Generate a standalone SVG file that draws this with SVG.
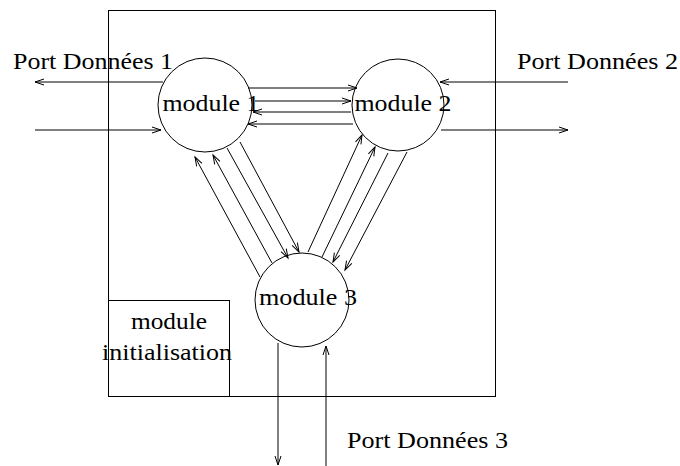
<svg xmlns="http://www.w3.org/2000/svg" width="680" height="466" viewBox="0 0 680 466">
<style>
.ln{stroke:#000;stroke-width:1;fill:none}
.ar{stroke:#000;stroke-width:1;fill:none;marker-end:url(#ah)}
.tx{font-family:"Liberation Serif","DejaVu Serif",serif;font-size:22.5px;fill:#000}
.c{text-anchor:middle}
</style>
<defs>
<marker id="ah" markerUnits="userSpaceOnUse" markerWidth="12" markerHeight="10" refX="10" refY="4" orient="auto" overflow="visible">
<path d="M1,1 L10,4 L1,7" fill="none" stroke="#000" stroke-width="1"/>
</marker>
</defs>
<rect x="0" y="0" width="680" height="466" fill="#fff"/>
<g id="frame"><rect x="108.5" y="10.5" width="387" height="386" class="ln"/></g>
<g id="init"><rect x="108.5" y="300.5" width="121" height="96" class="ln"/>
<text class="tx c" x="169" y="329" textLength="76" lengthAdjust="spacingAndGlyphs">module</text>
<text class="tx c" x="167" y="360" textLength="130" lengthAdjust="spacingAndGlyphs">initialisation</text></g>
<g id="m1"><circle cx="205" cy="105" r="47" class="ln"/>
<text class="tx c" x="211" y="111" textLength="97" lengthAdjust="spacingAndGlyphs">module 1</text></g>
<g id="m2"><circle cx="398" cy="105" r="46" class="ln"/>
<text class="tx c" x="403" y="111" textLength="97" lengthAdjust="spacingAndGlyphs">module 2</text></g>
<g id="m3"><circle cx="302" cy="300" r="47" class="ln"/>
<text class="tx c" x="308" y="305" textLength="98" lengthAdjust="spacingAndGlyphs">module 3</text></g>
<g id="labels">
<text class="tx" x="13" y="69" textLength="160" lengthAdjust="spacingAndGlyphs">Port Données 1</text>
<text class="tx" x="517" y="69" textLength="161" lengthAdjust="spacingAndGlyphs">Port Données 2</text>
<text class="tx" x="347" y="448" textLength="161" lengthAdjust="spacingAndGlyphs">Port Données 3</text>
</g>
<g id="connectors">
<line class="ar" x1="163" y1="82" x2="35" y2="82"/>
<line class="ar" x1="35" y1="130" x2="161" y2="130"/>
<line class="ar" x1="568" y1="82" x2="440" y2="82"/>
<line class="ar" x1="441" y1="130" x2="568" y2="130"/>
<line class="ar" x1="278" y1="343" x2="278" y2="465"/>
<line class="ar" x1="326" y1="466" x2="326" y2="346"/>
<line class="ar" x1="248" y1="88" x2="357" y2="88"/>
<line class="ar" x1="255" y1="101" x2="351" y2="101"/>
<line class="ar" x1="351" y1="112" x2="253" y2="112"/>
<line class="ar" x1="353" y1="124" x2="248" y2="124"/>
<line class="ar" x1="260" y1="277" x2="195" y2="157"/>
<line class="ar" x1="272" y1="263" x2="213" y2="155"/>
<line class="ar" x1="227" y1="148" x2="288" y2="258"/>
<line class="ar" x1="240" y1="142" x2="299" y2="252"/>
<line class="ar" x1="308" y1="252" x2="362" y2="135"/>
<line class="ar" x1="322" y1="257" x2="375" y2="147"/>
<line class="ar" x1="388" y1="153" x2="333" y2="262"/>
<line class="ar" x1="407" y1="152" x2="345" y2="270"/>
</g>
</svg>
